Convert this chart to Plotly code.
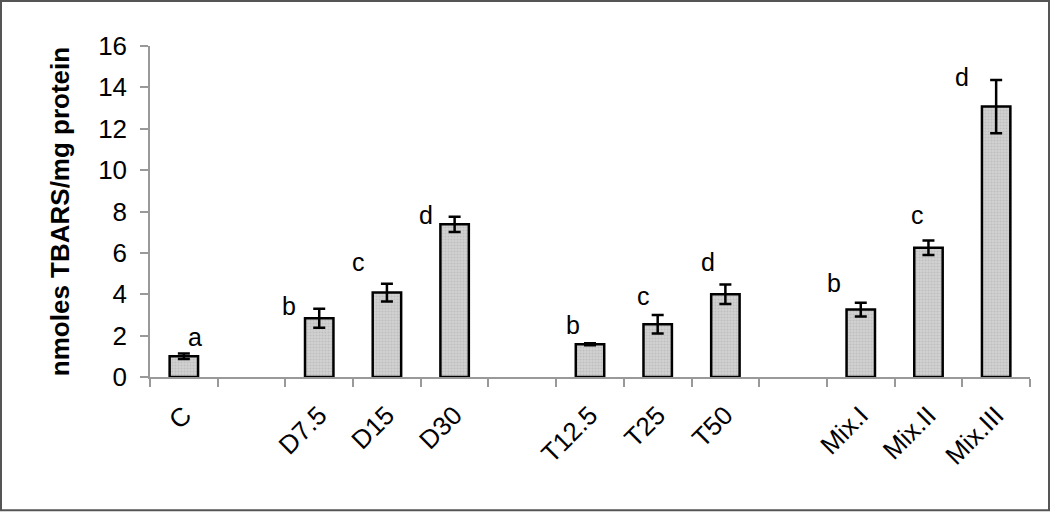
import plotly.graph_objects as go

categories = ["C", " ", "D7.5", "D15", "D30", "  ", "T12.5", "T25", "T50", "   ", "Mix.I", "Mix.II", "Mix.III"]
values = [1.0, None, 2.84, 4.08, 7.38, None, 1.58, 2.55, 4.0, None, 3.26, 6.25, 13.07]
errors = [0.13, None, 0.46, 0.43, 0.37, None, 0.05, 0.45, 0.47, None, 0.33, 0.35, 1.29]
letters = ["a", None, "b", "c", "d", None, "b", "c", "d", None, "b", "c", "d"]
letter_y = [1.91, None, 3.45, 5.54, 7.84, None, 2.49, 3.9, 5.54, None, 4.55, 7.81, 14.52]
letter_shift = [11, 0, -30, -28, -29, 0, -17, -14, -17, 0, -27, -11, -34]
y_ticks = [0, 2, 4, 6, 8, 10, 12, 14, 16]

fig = go.Figure()
fig.add_trace(go.Bar(
    x=categories, y=values, width=0.42,
    marker=dict(color="#c9c9c9", line=dict(color="black", width=2.5),
                pattern=dict(shape=".", fgcolor="#a9a9a9", bgcolor="#d2d2d2", size=3, solidity=0.4)),
    error_y=dict(type="data", array=errors, visible=True, color="black", thickness=2.5, width=6),
))

for c, t, ly, sh in zip(categories, letters, letter_y, letter_shift):
    if t is None:
        continue
    fig.add_annotation(x=c, y=ly, text=t, showarrow=False, xshift=sh,
                       font=dict(family="Liberation Sans, Arial", size=25, color="black"))

L, R, T, B = 150, 20, 46, 134.5
pw, ph = 1050 - L - R, 512 - T - B
fig.add_shape(type="rect", xref="paper", yref="paper",
              x0=(1 - L) / pw, x1=(1049 - L) / pw,
              y0=(512 - B - 511) / ph, y1=(512 - B - 1) / ph,
              line=dict(color="#555555", width=2), fillcolor="rgba(0,0,0,0)", layer="above")

fig.update_layout(
    width=1050, height=512,
    margin=dict(l=L, r=R, t=T, b=B),
    paper_bgcolor="white", plot_bgcolor="white",
    showlegend=False, bargap=0.58,
    font=dict(family="Liberation Sans, Arial", color="black"),
    xaxis=dict(type="category", categoryorder="array", categoryarray=categories,
               range=[-0.5, 12.5], tickson="boundaries", ticks="outside", ticklen=8,
               tickcolor="#999999", tickwidth=1.5, showline=True, linecolor="#999999", linewidth=1.5,
               tickangle=-45, tickfont=dict(size=26), ticklabelstandoff=11,
               showgrid=False, zeroline=False),
    yaxis=dict(range=[0, 16], tickvals=y_ticks, ticks="outside", ticklen=8,
               tickcolor="#999999", tickwidth=1.5, showline=True, linecolor="#999999", linewidth=1.5,
               tickfont=dict(size=26), ticklabelstandoff=8, showgrid=False, zeroline=False,
               title=dict(text="<b>nmoles TBARS/mg protein</b>", font=dict(size=26), standoff=21)),
)

fig.write_html("out.html", config={"displayModeBar": False},
               post_script="document.body.style.margin='0px';document.body.style.overflow='hidden';")
